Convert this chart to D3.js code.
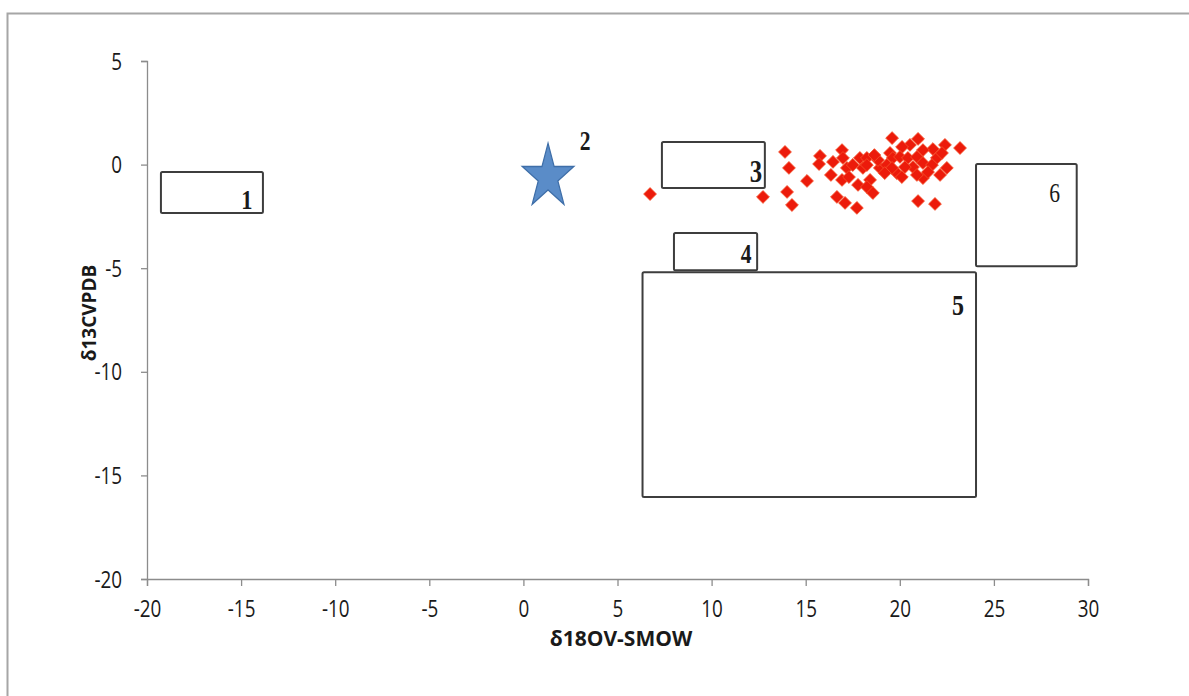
<!DOCTYPE html>
<html>
<head>
<meta charset="utf-8">
<script src="https://cdn.jsdelivr.net/npm/d3@7"></script>
<style>
  html, body { margin: 0; padding: 0; background: #fff; }
  svg { display: block; }
</style>
</head>
<body>
<svg id="chart" width="1189" height="696"></svg>
<script>
// Isotope composition fields (δ18O V-SMOW vs δ13C V-PDB)
const xTicks = [-20, -15, -10, -5, 0, 5, 10, 15, 20, 25, 30];
const yTicks = [-20, -15, -10, -5, 0, 5];
const xTitle = "δ18OV-SMOW";
const yTitle = "δ13CVPDB";

// Reference fields: [id, xMin, xMax, yMin, yMax]
const fieldIds  = ["1", "3", "4", "5", "6"];
const fieldXMin = [-19.26, 7.36, 8.0, 6.33, 24.05];
const fieldXMax = [-13.84, 12.83, 12.42, 24.05, 29.4];
const fieldYMin = [-2.34, -1.13, -5.1, -16.04, -4.9];
const fieldYMax = [-0.36, 1.09, -3.3, -5.2, 0.03];

// Point field 2 (star)
const starX = 1.31, starY = -0.5, starLabel = "2";

// Measured samples
const sampleX = [6.73, 12.73, 13.90, 14.11, 14.01, 14.27, 15.07, 15.76, 15.71, 16.45,
  16.34, 16.93, 16.98, 17.19, 16.93, 17.30, 16.66, 17.09, 17.72, 17.88,
  17.50, 18.04, 17.78, 18.25, 19.59, 20.97, 23.20, 22.40, 21.76, 21.23,
  20.54, 20.12, 19.48, 18.25, 18.94, 19.31, 19.63, 20.01, 20.43, 20.91,
  21.23, 21.97, 22.24, 22.50, 21.71, 20.70, 19.84, 20.11, 21.23, 20.91,
  21.50, 18.42, 18.25, 18.57, 20.97, 21.87, 22.14, 19.59, 20.27, 18.84,
  19.20, 18.65];
const sampleY = [-1.42, -1.56, 0.61, -0.16, -1.32, -1.95, -0.79, 0.42, 0.03, 0.13,
  -0.50, 0.70, 0.32, -0.16, -0.74, -0.60, -1.56, -1.85, -2.09, 0.32,
  -0.02, -0.16, -0.98, 0.32, 1.28, 1.24, 0.80, 0.95, 0.75, 0.70,
  0.95, 0.85, 0.56, -0.02, -0.16, -0.02, 0.32, 0.37, 0.32, 0.37,
  0.08, 0.32, 0.56, -0.16, -0.02, -0.12, -0.41, -0.60, -0.65, -0.50,
  -0.36, -0.74, -1.08, -1.37, -1.76, -1.90, -0.50, -0.16, -0.12, 0.22,
  -0.41, 0.46];

const svg = d3.select("#chart");

// outer frame
svg.append("path")
  .attr("d", "M7.5,700 V13.5 H1200")
  .attr("fill", "none").attr("stroke", "#a6a6a6").attr("stroke-width", 2);

const x = d3.scaleLinear().domain([-20, 30]).range([147, 1088]);
const y = d3.scaleLinear().domain([-20, 5]).range([579, 61]);

const font = "'Open Sans', 'DejaVu Sans', sans-serif";
const narrow = 0.82; // horizontal squeeze for tick numerals

// y axis
const gy = svg.append("g").attr("transform", `translate(${x(-20)},0)`)
  .call(d3.axisLeft(y).tickValues(yTicks).tickSize(6)
    .tickFormat(d => String(d)));
// x axis
const gx = svg.append("g").attr("transform", `translate(0,${y(-20)})`)
  .call(d3.axisBottom(x).tickValues(xTicks).tickSize(7).tickPadding(15)
    .tickFormat(d => String(d)));

[gx, gy].forEach(g => {
  g.select(".domain").attr("stroke", "#8c8c8c").attr("stroke-width", 1.3);
  g.selectAll(".tick line").attr("stroke", "#8c8c8c").attr("stroke-width", 1.3);
  g.selectAll(".tick text").attr("fill", "#1a1a1a")
    .attr("transform", `scale(${narrow},1)`)
    .style("font-family", font).style("font-size", "23px");
});
gy.selectAll(".tick text").attr("x", -25 / narrow).attr("dy", "0.35em");
gx.selectAll(".tick text").attr("dy", "0.7em");

// axis titles
svg.append("text")
  .attr("x", 621).attr("y", 646)
  .attr("text-anchor", "middle")
  .style("font-family", font).style("font-size", "21px").style("font-weight", "bold")
  .attr("fill", "#1a1a1a")
  .text(xTitle);
svg.append("text")
  .attr("transform", "translate(96,313) rotate(-90)")
  .attr("text-anchor", "middle")
  .style("font-family", font).style("font-size", "19px").style("font-weight", "bold")
  .attr("fill", "#1a1a1a")
  .text(yTitle);

// reference fields
const fields = fieldIds.map((id, i) => ({
  id, x0: fieldXMin[i], x1: fieldXMax[i], y0: fieldYMin[i], y1: fieldYMax[i]
}));
// label placement within each field (pixel offsets from top-right corner)
const labelStyle = {
  "1": { dx: -16, dy: 37, size: 28, bold: true },
  "3": { dx: -9,  dy: 40, size: 31, bold: true },
  "4": { dx: -11, dy: 30, size: 27, bold: true },
  "5": { dx: -18, dy: 43, size: 30, bold: true },
  "6": { dx: -22, dy: 38, size: 27, bold: false }
};
const serif = "'Liberation Serif', 'DejaVu Serif', serif";

const gf = svg.append("g");
gf.selectAll("rect").data(fields).join("rect")
  .attr("x", d => x(d.x0))
  .attr("y", d => y(d.y1))
  .attr("width", d => x(d.x1) - x(d.x0))
  .attr("height", d => y(d.y0) - y(d.y1))
  .attr("rx", 1.5)
  .attr("fill", "none")
  .attr("stroke", "#3d3d3d")
  .attr("stroke-width", 2);
gf.selectAll("text").data(fields).join("text")
  .attr("transform", d => `translate(${x(d.x1) + labelStyle[d.id].dx},${y(d.y1) + labelStyle[d.id].dy}) scale(0.8,1)`)
  .attr("text-anchor", "middle")
  .style("font-family", serif)
  .style("font-size", d => labelStyle[d.id].size + "px")
  .style("font-weight", d => labelStyle[d.id].bold ? "bold" : "normal")
  .attr("fill", "#1a1a1a")
  .text(d => d.id);

// samples
svg.append("g").selectAll("path")
  .data(sampleX.map((v, i) => [v, sampleY[i]]))
  .join("path")
  .attr("d", d3.symbol(d3.symbolSquare, 82))
  .attr("transform", d => `translate(${x(d[0])},${y(d[1])}) rotate(45)`)
  .attr("fill", "#ec1b0b")
  .attr("stroke", "#f4502a")
  .attr("stroke-width", 0.8);

// star field
svg.append("path")
  .attr("d", d3.symbol(d3.symbolStar, 820))
  .attr("transform", `translate(${x(starX)},${y(starY) + 2}) scale(1,1.25)`)
  .attr("fill", "#5a8cc8")
  .attr("stroke", "#3e6ea8")
  .attr("stroke-width", 1.2);
svg.append("text")
  .attr("transform", `translate(${x(starX) + 37},${y(starY) - 25}) scale(0.8,1)`)
  .attr("text-anchor", "middle")
  .style("font-family", serif)
  .style("font-size", "27px").style("font-weight", "bold")
  .attr("fill", "#1a1a1a")
  .text(starLabel);
</script>
</body>
</html>
